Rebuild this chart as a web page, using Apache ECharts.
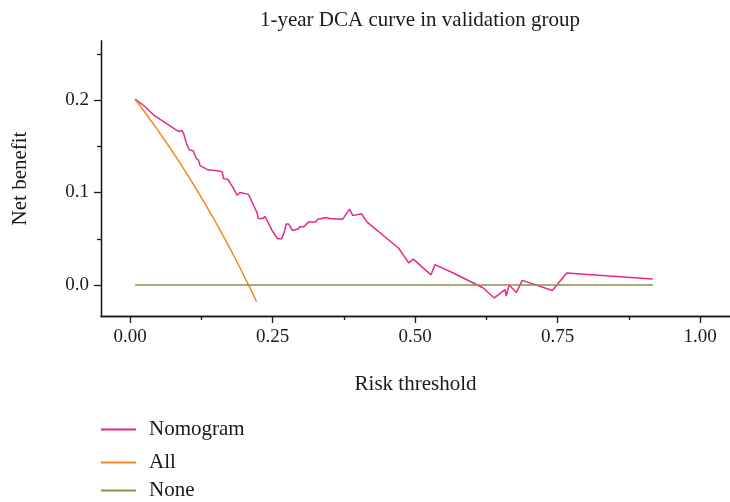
<!DOCTYPE html>
<html>
<head>
<meta charset="utf-8">
<script src="https://cdn.jsdelivr.net/npm/echarts@6/dist/echarts.min.js"></script>
<style>
  html, body { margin: 0; padding: 0; background: #fff; }
  #chart { width: 730px; height: 502px; }
</style>
</head>
<body>
<div id="chart"></div>
<script>
// values
const nomoX = [0.009, 0.026, 0.041, 0.053, 0.070, 0.085, 0.091, 0.094, 0.099, 0.104,
    0.111, 0.116, 0.120, 0.123, 0.135, 0.146, 0.158, 0.162, 0.164, 0.172,
    0.181, 0.188, 0.193, 0.208, 0.216, 0.223, 0.225, 0.233, 0.237, 0.243,
    0.249, 0.252, 0.259, 0.266, 0.271, 0.274, 0.278, 0.285, 0.287, 0.295,
    0.298, 0.305, 0.313, 0.326, 0.329, 0.336, 0.344, 0.350, 0.373, 0.385,
    0.391, 0.406, 0.416, 0.471, 0.489, 0.497, 0.528, 0.535, 0.567, 0.619,
    0.639, 0.658, 0.660, 0.665, 0.678, 0.688, 0.741, 0.766, 0.917];
const nomoY = [0.201, 0.193, 0.184, 0.179, 0.172, 0.166, 0.167, 0.164, 0.153, 0.146,
    0.145, 0.137, 0.135, 0.129, 0.125, 0.124, 0.123, 0.122, 0.115, 0.114,
    0.105, 0.097, 0.100, 0.098, 0.087, 0.078, 0.072, 0.072, 0.074, 0.067,
    0.059, 0.058, 0.050, 0.050, 0.058, 0.066, 0.066, 0.059, 0.061, 0.0605,
    0.063, 0.063, 0.068, 0.068, 0.071, 0.072, 0.073, 0.072, 0.071, 0.082,
    0.075, 0.077, 0.068, 0.040, 0.024, 0.028, 0.011, 0.022, 0.013, -0.003,
    -0.014, -0.005, -0.012, 0.000, -0.008, 0.005, -0.006, 0.013, 0.0065];
const allX = [0.01, 0.03, 0.05, 0.07, 0.09, 0.11, 0.13, 0.15, 0.17, 0.19, 0.21, 0.222];
const allY = [0.200, 0.1835, 0.1663, 0.1484, 0.1297, 0.1101, 0.0897, 0.0682, 0.0458, 0.0222, -0.0025, -0.018];
const noneX = [0.009, 0.917];
const noneY = [0, 0];

const xMajor = [0, 0.25, 0.5, 0.75, 1];
const xMinor = [0.125, 0.375, 0.625, 0.875];
const yMajor = [0, 0.1, 0.2];
const yMinor = [0.05, 0.15, 0.25];

const FONT = '"Liberation Serif", "DejaVu Serif", serif';
const INK = '#1a1a1a';

const zip = (xs, ys) => xs.map((x, i) => [x, ys[i]]);

const grid = {left: 101, right: 0, top: 41, bottom: 186};
const xRange = {min: -0.0509, max: 1.0526};
const yRange = {min: -0.0335, max: 0.2638};

function axisBase(extra) {
    return Object.assign({
        type: 'value',
        splitLine: {show: false},
        axisLine: {show: true, onZero: false, lineStyle: {color: INK, width: 1.3}},
        axisLabel: {show: false}
    }, extra);
}

const chart = echarts.init(document.getElementById('chart'), null, {renderer: 'canvas'});
chart.setOption({
    animation: false,
    backgroundColor: '#fff',
    title: {
        text: '1-year DCA curve in validation group',
        left: 415, top: 5, textAlign: 'center',
        textStyle: {fontFamily: FONT, fontSize: 21, fontWeight: 'normal', color: INK}
    },
    grid: grid,
    xAxis: [
        axisBase(Object.assign({}, xRange, {
            position: 'bottom',
            name: 'Risk threshold',
            nameLocation: 'middle',
            nameGap: 58,
            nameTextStyle: {fontFamily: FONT, fontSize: 21, color: INK},
            axisTick: {show: true, length: 7, customValues: xMajor, lineStyle: {color: INK, width: 1.3}},
            axisLabel: {show: true, customValues: xMajor, margin: 12,
                fontFamily: FONT, fontSize: 19, color: INK,
                formatter: (v) => v.toFixed(2)}
        })),
        axisBase(Object.assign({}, xRange, {
            position: 'bottom',
            axisTick: {show: true, length: 4, customValues: xMinor, lineStyle: {color: INK, width: 1.3}}
        }))
    ],
    yAxis: [
        axisBase(Object.assign({}, yRange, {
            position: 'left',
            name: 'Net benefit',
            nameLocation: 'middle',
            nameGap: 70,
            nameRotate: 90,
            nameTextStyle: {fontFamily: FONT, fontSize: 21, color: INK},
            axisTick: {show: true, length: 7, customValues: yMajor, lineStyle: {color: INK, width: 1.3}},
            axisLabel: {show: true, customValues: yMajor, margin: 12,
                fontFamily: FONT, fontSize: 19, color: INK,
                formatter: (v) => v.toFixed(1)}
        })),
        axisBase(Object.assign({}, yRange, {
            position: 'left',
            axisTick: {show: true, length: 4, customValues: yMinor, lineStyle: {color: INK, width: 1.3}}
        }))
    ],
    legend: [
        {data: ['Nomogram'], top: 419},
        {data: ['All'], top: 452},
        {data: ['None'], top: 480}
    ].map((l) => Object.assign({
        left: 101, orient: 'vertical', icon: 'rect', padding: 0,
        itemWidth: 35, itemHeight: 2,
        textStyle: {fontFamily: FONT, fontSize: 21, color: INK, padding: [0, 0, 0, 8]}
    }, l)),
    series: [
        {name: 'Nomogram', type: 'line', data: zip(nomoX, nomoY), color: '#e7298a'},
        {name: 'All', type: 'line', data: zip(allX, allY), color: '#f28a1e'},
        {name: 'None', type: 'line', data: zip(noneX, noneY), color: '#8e8e45'}
    ].map((s) => Object.assign({
        showSymbol: false, symbol: 'none', smooth: false,
        lineStyle: {width: 1.5}
    }, s))
});
</script>
</body>
</html>
